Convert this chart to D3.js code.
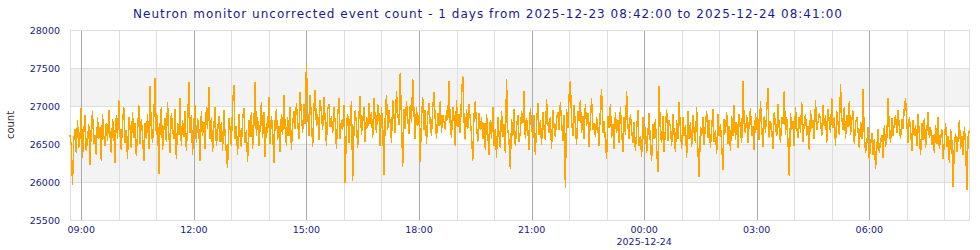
<!DOCTYPE html>
<html>
<head>
<meta charset="utf-8">
<script src="https://cdn.jsdelivr.net/npm/d3@7"></script>
<style>
  body { margin: 0; background: #fff; }
  svg { display: block; font-family: "DejaVu Sans", Verdana, sans-serif; }
</style>
</head>
<body>
<svg id="chart" width="980" height="250"></svg>
<script>
// one sample every 2 minutes, starting 2025-12-23 08:42 UTC
var startTime = "2025-12-23T08:42:00Z";
var endTime = "2025-12-24T08:41:00Z";
var stepMinutes = 2;

var counts = [
  26620,26480,25960,26550,26700,26380,26810,26450,26590,26990,26320,26650,26880,26410,26560,26760,26230,26700,26940,26500,26620,26350,26850,26570,26720,26280,26900,26610,26470,26780,
  26540,26950,26610,26380,26830,26700,26250,26880,26560,27080,26620,26420,26790,26980,26510,26690,26300,26860,26720,26450,26920,26580,26770,26340,26650,27010,26500,26830,26620,26280,
  26780,26560,26900,26430,27260,26700,26510,26850,27370,26620,26880,26100,26750,26980,26420,26690,26840,26530,27050,26640,26380,26910,26720,26560,26960,26300,26780,26620,27100,26480,
  26820,26590,26940,26410,26730,27320,26650,26880,26360,26770,27010,26520,26840,26690,26270,26930,26610,26790,26440,26980,26700,27250,26560,26850,26390,26720,26990,26480,26660,26870,
  26530,26790,26410,26950,26620,26380,26180,26840,26700,26480,27020,27280,26560,26730,26350,26890,26610,26460,26820,26970,26520,26680,26260,26810,26590,26920,26440,26750,27320,26600,
  26860,26470,26730,27050,26580,26920,26330,26780,26640,27120,26500,26870,26690,26250,26810,26960,26550,26740,26390,26900,26620,27150,26710,26480,26850,26600,26990,26420,26760,26930,
  26700,27040,26810,26560,27190,26880,26650,27020,26760,27570,26930,26600,27150,26830,26460,26980,27210,26740,26890,26550,27080,26910,26690,27120,26820,26480,26960,27030,26720,26870,
  26640,26980,26790,26430,26870,27100,26560,26820,26690,27010,25990,26750,26900,26520,26830,27060,26010,26680,26940,26770,26450,26880,27130,26620,26790,26980,26530,26860,26710,27040,
  26760,26920,26580,27110,26830,26650,27020,26890,26470,26980,26730,26090,26850,27150,26690,26940,26780,26520,27080,26870,26640,27200,26910,26750,27430,26820,26200,26960,26700,27060,
  26850,26630,27010,26780,27360,26920,26560,26990,26740,26880,26260,26830,27120,26690,26950,26500,26870,27040,26760,26610,26980,27180,26820,26570,26910,26740,27060,26650,26880,26790,
  26690,26940,26820,27330,26750,26580,26990,26860,26470,27080,26720,26900,26640,27150,27400,26810,26550,26960,26700,27020,26830,26620,26280,26890,27060,26740,26530,26910,26680,26850,
  26560,26780,26420,26900,26640,26350,26810,26570,26990,26480,26700,26320,26860,26620,26450,26940,26590,26760,26380,27355,26690,26540,26170,26830,26610,26960,26470,26720,26880,26530,
  26650,26930,26780,27200,26560,26840,26690,26420,26970,26730,26580,26880,26350,26760,27040,26620,26810,26490,26920,26700,26550,27090,26780,26640,26860,26430,26950,26720,26590,26830,
  26920,26680,27050,26790,26540,26880,25925,26960,26710,27140,27330,26820,26600,27010,26750,26490,26930,26800,27080,26650,26870,26560,27020,26740,26910,26460,26830,27100,26690,26780,
  26590,26850,26720,26480,26960,27220,26650,26800,26540,26300,26870,26710,27030,26580,26760,26430,26920,26650,26820,26510,26980,26690,26400,26850,26620,27200,26740,26560,26900,26680,
  26520,26790,26410,26680,26950,26470,26610,26330,26850,26560,26720,26380,26640,26910,26490,26280,26760,26570,26830,26440,26130,27260,26620,26510,26870,26390,26700,26960,26540,26810,
  26720,26480,26900,26630,26390,26810,26560,27050,26680,26430,26860,26600,26750,26310,26940,26570,26790,26460,26880,26650,26520,26980,26400,26070,26720,26610,26850,26490,26770,26930,
  26580,26820,26450,26700,26960,26530,26680,26370,26890,26610,26760,26480,26160,26830,26640,26920,26500,26740,26410,26870,26600,27010,26550,26790,26450,26900,26680,26520,27330,26760,
  26640,26880,26510,26790,26970,26600,26730,26420,26910,26680,26830,26550,27060,26720,26460,26870,26650,26940,27240,26580,26800,26690,26430,26920,26750,26600,27030,26700,26520,26860,
  26770,27200,26620,26850,26540,26080,26910,26690,26800,26470,26980,26720,26580,26860,26650,27050,26530,26780,26900,26610,26740,26420,26950,26700,26820,26560,27080,26680,26790,26900,
  26830,26600,27010,26740,26880,26520,26960,26790,26650,27100,26710,26850,26470,26930,26780,26620,27285,26840,26690,26990,26560,26880,26730,27060,26620,26810,26940,26500,26770,26860,
  26680,26450,26790,26560,27230,26620,26380,26510,26720,26290,26480,26650,26350,26570,26170,26440,26700,26380,26530,26620,26310,26750,26460,26580,27110,26690,26520,26840,26610,26770,
  26880,26640,26950,26720,26560,26830,26700,26990,27100,26780,26520,26860,26690,26410,26810,26600,26750,26480,26900,26620,26350,26780,26550,26840,26450,26680,26920,26580,26720,26490,
  26620,26380,26750,26500,26860,26430,26580,26690,26300,26520,26780,26460,26610,26250,26700,26540,25940,26480,26650,26390,26570,26820,26440,26610,26350,26720,26500,25900,26600,26680
];

var yTicks = [25500, 26000, 26500, 27000, 27500, 28000];
var bands = [[26000, 26500], [27000, 27500]];
var labelHours = 3;

var titleText = "Neutron monitor uncorrected event count - 1 days from 2025-12-23 08:42:00 to 2025-12-24 08:41:00";
var yLabel = "count";

var margin = { left: 70, right: 10, top: 30, bottom: 30 };
var W = 980, H = 250;
var svg = d3.select("#chart");

var t0 = new Date(startTime);
var points = counts.map(function (v, i) {
  return { t: new Date(t0.getTime() + i * stepMinutes * 60000), v: v };
});

var x = d3.scaleUtc()
  .domain([t0, new Date(endTime)])
  .range([margin.left, W - margin.right]);
var y = d3.scaleLinear()
  .domain([yTicks[0], yTicks[yTicks.length - 1]])
  .range([H - margin.bottom, margin.top]);

// background bands
svg.append("g").selectAll("rect")
  .data(bands)
  .join("rect")
  .attr("x", x.range()[0])
  .attr("width", x.range()[1] - x.range()[0])
  .attr("y", function (d) { return y(d[1]); })
  .attr("height", function (d) { return y(d[0]) - y(d[1]); })
  .attr("fill", "#f3f3f3");

// horizontal grid
svg.append("g").selectAll("line")
  .data(yTicks)
  .join("line")
  .attr("x1", x.range()[0]).attr("x2", x.range()[1])
  .attr("y1", function (d) { return Math.round(y(d)) + 0.5; })
  .attr("y2", function (d) { return Math.round(y(d)) + 0.5; })
  .attr("stroke", "#dddddd");

// vertical grid, darker every 3 hours
var hours = x.ticks(d3.utcHour.every(1));
svg.append("g").selectAll("line")
  .data(hours)
  .join("line")
  .attr("x1", function (d) { return Math.round(x(d)) + 0.5; })
  .attr("x2", function (d) { return Math.round(x(d)) + 0.5; })
  .attr("y1", y.range()[1]).attr("y2", y.range()[0])
  .attr("stroke", function (d) { return d.getUTCHours() % labelHours === 0 ? "#aaaaaa" : "#dddddd"; });

// frame
svg.append("rect")
  .attr("x", margin.left + 0.5).attr("y", margin.top + 0.5)
  .attr("width", x.range()[1] - x.range()[0] - 1)
  .attr("height", y.range()[0] - y.range()[1])
  .attr("fill", "none")
  .attr("stroke", "#dddddd");

// data line
svg.append("path")
  .datum(points)
  .attr("fill", "none")
  .attr("stroke", "#ffa500")
  .attr("stroke-width", 1.4)
  .attr("shape-rendering", "crispEdges")
  .attr("d", d3.line()
    .x(function (d) { return x(d.t); })
    .y(function (d) { return y(d.v); }));

// y tick labels
svg.append("g").selectAll("text")
  .data(yTicks)
  .join("text")
  .attr("x", margin.left - 10)
  .attr("y", function (d) { return y(d) + 3.5; })
  .attr("text-anchor", "end")
  .attr("font-size", 9.5)
  .attr("fill", "#1a1a80")
  .text(function (d) { return d; });

// x tick labels
var labelTimes = hours.filter(function (d) { return d.getUTCHours() % labelHours === 0; });
var fmt = d3.utcFormat("%H:%M");
var xl = svg.append("g");
xl.selectAll("text")
  .data(labelTimes)
  .join("text")
  .attr("x", function (d) { return x(d); })
  .attr("y", H - margin.bottom + 13)
  .attr("text-anchor", "middle")
  .attr("font-size", 9.5)
  .attr("fill", "#1a1a80")
  .text(fmt);
xl.selectAll("text.date")
  .data(labelTimes.filter(function (d) { return d.getUTCHours() === 0; }))
  .join("text")
  .attr("class", "date")
  .attr("x", function (d) { return x(d); })
  .attr("y", H - margin.bottom + 25)
  .attr("text-anchor", "middle")
  .attr("font-size", 9.5)
  .attr("fill", "#1a1a80")
  .text(d3.utcFormat("%Y-%m-%d"));

// title
svg.append("text")
  .attr("x", 133)
  .attr("y", 18)
  .attr("font-size", 12)
  .attr("fill", "#1a1a8c")
  .attr("textLength", 709)
  .attr("lengthAdjust", "spacing")
  .text(titleText);

// y label
svg.append("text")
  .attr("transform", "translate(14," + ((y.range()[0] + y.range()[1]) / 2) + ") rotate(-90)")
  .attr("text-anchor", "middle")
  .attr("font-size", 10)
  .attr("fill", "#333")
  .text(yLabel);
</script>
</body>
</html>
